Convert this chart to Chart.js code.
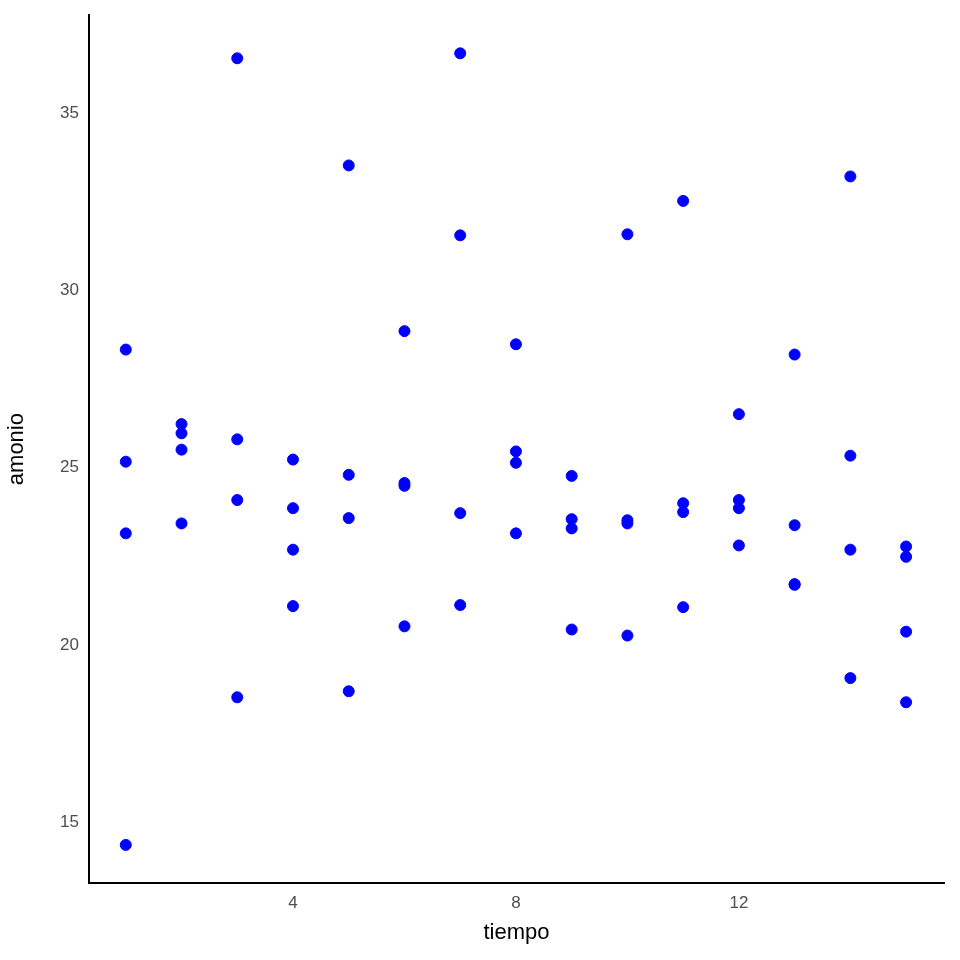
<!DOCTYPE html>
<html><head><meta charset="utf-8">
<script src="https://cdn.jsdelivr.net/npm/chart.js@4/dist/chart.umd.min.js"></script>
<style>html,body{margin:0;background:#fff}#w{width:960px;height:960px}</style>
</head><body><div id="w"><canvas id="c"></canvas></div>
<script>
const tiempo = [1,1,1,1, 2,2,2,2, 3,3,3,3, 4,4,4,4, 5,5,5,5, 6,6,6,6, 7,7,7,7, 8,8,8,8, 9,9,9,9, 10,10,10,10, 11,11,11,11, 12,12,12,12, 13,13,13,13, 14,14,14,14, 15,15,15,15];
const amonio = [28.33,25.17,23.15,14.37, 26.23,25.97,25.51,23.43, 36.54,25.80,24.09,18.53, 25.23,23.86,22.69,21.10, 33.52,24.80,23.58,18.70, 28.85,24.57,24.49,20.53, 36.68,31.55,23.72,21.13, 28.48,25.46,25.14,23.15, 24.77,23.55,23.29,20.44, 31.58,23.52,23.43,20.27, 32.52,24.00,23.75,21.07, 26.51,24.09,23.86,22.81, 28.19,23.38,21.72,21.70, 33.21,25.34,22.69,19.07, 22.78,22.49,20.38,18.39];
const xTicks = [4,8,12];
const yTicks = [15,20,25,30,35];
const pts = tiempo.map((t,i)=>({x:t,y:amonio[i]}));
const font = {family:'Liberation Sans, Arial, sans-serif', size:17};
new Chart(document.getElementById('c'),{
  type:'scatter',
  data:{datasets:[{data:pts,backgroundColor:'#0000ff',borderColor:'#0000ff',pointRadius:5.5,pointHoverRadius:5.5}]},
  options:{responsive:true,maintainAspectRatio:false,animation:false,
    layout:{padding:{top:15,right:16,left:0,bottom:10}},
    plugins:{legend:{display:false},tooltip:{enabled:false}},
    scales:{
      x:{type:'linear',min:0.34,max:15.68,
        afterBuildTicks:a=>{a.ticks=xTicks.map(v=>({value:v}));},
        grid:{display:false,drawTicks:true,tickLength:6,tickColor:'#000'},
        border:{color:'#000',width:2},
        ticks:{color:'#4d4d4d',font:font,padding:4},
        title:{display:true,text:'tiempo',color:'#000',font:{family:font.family,size:22},padding:{top:2}}},
      y:{type:'linear',min:13.29,max:37.76,
        afterBuildTicks:a=>{a.ticks=yTicks.map(v=>({value:v}));},
        afterFit:a=>{a.width=89;},
        grid:{display:false,drawTicks:true,tickLength:6,tickColor:'#000'},
        border:{color:'#000',width:2},
        ticks:{color:'#4d4d4d',font:font,padding:4},
        title:{display:true,text:'amonio',color:'#000',font:{family:font.family,size:22},padding:{bottom:4}}}
    }}
});
</script></body></html>
